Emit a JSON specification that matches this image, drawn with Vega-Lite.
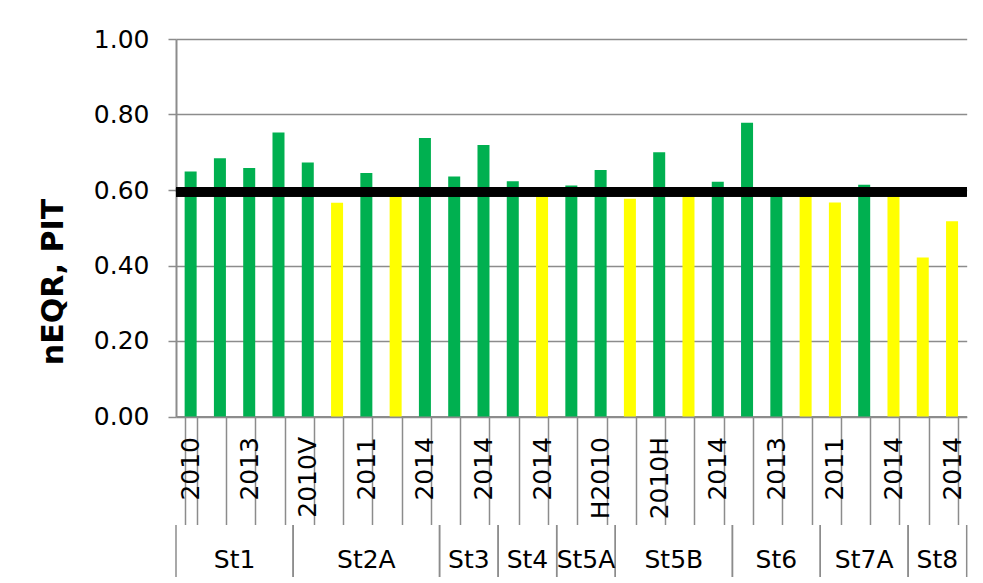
{
  "$schema": "https://vega.github.io/schema/vega-lite/v6.json",
  "padding": {"left": 39, "top": 27, "right": 5, "bottom": 0},
  "background": "white",
  "config": {
    "font": "DejaVu Sans",
    "view": {"stroke": null},
    "axis": {"labelColor": "#000000", "labelFont": "DejaVu Sans", "titleFont": "DejaVu Sans"}
  },
  "bounds": "flush",
  "spacing": 108,
  "vconcat": [
    {
      "width": 790.7,
      "height": 377.5,
      "data": {
        "values": [
          {"station": "St1", "year": "2010", "bar": "St1 2010", "value": 0.649, "status": "good"},
          {"station": "St1", "year": "2011", "bar": "St1 2011", "value": 0.684, "status": "good"},
          {"station": "St1", "year": "2013", "bar": "St1 2013", "value": 0.658, "status": "good"},
          {"station": "St1", "year": "2014", "bar": "St1 2014", "value": 0.752, "status": "good"},
          {"station": "St2A", "year": "2010V", "bar": "St2A 2010V", "value": 0.673, "status": "good"},
          {"station": "St2A", "year": "2010H", "bar": "St2A 2010H", "value": 0.566, "status": "moderate"},
          {"station": "St2A", "year": "2011", "bar": "St2A 2011", "value": 0.645, "status": "good"},
          {"station": "St2A", "year": "2013", "bar": "St2A 2013", "value": 0.595, "status": "moderate"},
          {"station": "St2A", "year": "2014", "bar": "St2A 2014", "value": 0.738, "status": "good"},
          {"station": "St3", "year": "2010", "bar": "St3 2010", "value": 0.636, "status": "good"},
          {"station": "St3", "year": "2014", "bar": "St3 2014", "value": 0.719, "status": "good"},
          {"station": "St4", "year": "2010", "bar": "St4 2010", "value": 0.623, "status": "good"},
          {"station": "St4", "year": "2014", "bar": "St4 2014", "value": 0.595, "status": "moderate"},
          {"station": "St5A", "year": "V2010", "bar": "St5A V2010", "value": 0.612, "status": "good"},
          {"station": "St5A", "year": "H2010", "bar": "St5A H2010", "value": 0.653, "status": "good"},
          {"station": "St5B", "year": "2010V", "bar": "St5B 2010V", "value": 0.577, "status": "moderate"},
          {"station": "St5B", "year": "2010H", "bar": "St5B 2010H", "value": 0.700, "status": "good"},
          {"station": "St5B", "year": "2011", "bar": "St5B 2011", "value": 0.595, "status": "moderate"},
          {"station": "St5B", "year": "2014", "bar": "St5B 2014", "value": 0.622, "status": "good"},
          {"station": "St6", "year": "2010", "bar": "St6 2010", "value": 0.778, "status": "good"},
          {"station": "St6", "year": "2013", "bar": "St6 2013", "value": 0.600, "status": "good"},
          {"station": "St6", "year": "2014", "bar": "St6 2014", "value": 0.595, "status": "moderate"},
          {"station": "St7A", "year": "2011", "bar": "St7A 2011", "value": 0.567, "status": "moderate"},
          {"station": "St7A", "year": "2013", "bar": "St7A 2013", "value": 0.614, "status": "good"},
          {"station": "St7A", "year": "2014", "bar": "St7A 2014", "value": 0.587, "status": "moderate"},
          {"station": "St8", "year": "2010", "bar": "St8 2010", "value": 0.421, "status": "moderate"},
          {"station": "St8", "year": "2014", "bar": "St8 2014", "value": 0.517, "status": "moderate"}
        ]
      },
      "layer": [
        {
          "mark": {"type": "bar"},
          "encoding": {
            "x": {
              "field": "bar",
              "type": "nominal",
              "sort": null,
              "scale": {"paddingInner": 0.59, "paddingOuter": 0.295},
              "axis": {
                "title": null,
                "labelAngle": 270,
                "labelFontSize": 25,
                "labelExpr": "round(datum.index * 26) % 2 == 0 ? split(datum.value, ' ')[1] : ''",
                "tickBand": "extent",
                "tickSize": 108,
                "tickColor": "#8c8c8c",
                "tickWidth": 1.5,
                "domainColor": "#8c8c8c",
                "domainWidth": 2,
                "labelPadding": -88
              }
            },
            "y": {
              "field": "value",
              "type": "quantitative",
              "scale": {"domain": [0, 1], "nice": false},
              "axis": {
                "title": "nEQR, PIT",
                "titleFontSize": 30,
                "titleFontWeight": "bold",
                "titleColor": "#000000",
                "titleX": -113,
                "titleY": 242.5,
                "titleBaseline": "alphabetic",
                "titleAlign": "center",
                "titleAngle": 270,
                "values": [0, 0.2, 0.4, 0.6, 0.8, 1],
                "format": ".2f",
                "labelFontSize": 25,
                "labelPadding": 19,
                "tickSize": 8,
                "tickColor": "#8c8c8c",
                "tickWidth": 1.5,
                "domainColor": "#8c8c8c",
                "domainWidth": 2,
                "grid": true,
                "gridColor": "#8c8c8c",
                "gridWidth": 1.5
              }
            },
            "color": {
              "field": "status",
              "type": "nominal",
              "scale": {"domain": ["good", "moderate"], "range": ["#00B050", "#FFFF00"]},
              "legend": null
            }
          }
        },
        {
          "mark": {"type": "rule", "color": "#000000", "opacity": 0.22, "strokeWidth": 7, "yOffset": 3},
          "encoding": {"y": {"datum": 0.6}}
        },
        {
          "mark": {"type": "rule", "color": "#000000", "strokeWidth": 5},
          "encoding": {"y": {"datum": 0.6}}
        }
      ]
    },
    {
      "width": 790.7,
      "height": 52,
      "data": {
        "values": [
          {"station": "St1", "start": 0, "end": 4},
          {"station": "St2A", "start": 4, "end": 9},
          {"station": "St3", "start": 9, "end": 11},
          {"station": "St4", "start": 11, "end": 13},
          {"station": "St5A", "start": 13, "end": 15},
          {"station": "St5B", "start": 15, "end": 19},
          {"station": "St6", "start": 19, "end": 22},
          {"station": "St7A", "start": 22, "end": 25},
          {"station": "St8", "start": 25, "end": 27}
        ]
      },
      "layer": [
        {
          "mark": {"type": "rule", "color": "#8c8c8c", "strokeWidth": 1.5},
          "encoding": {
            "x": {"field": "start", "type": "quantitative", "scale": {"domain": [0, 27], "nice": false, "zero": false}, "axis": null}
          }
        },
        {
          "mark": {"type": "rule", "color": "#8c8c8c", "strokeWidth": 1.5},
          "encoding": {
            "x": {"field": "end", "type": "quantitative", "axis": null}
          }
        },
        {
          "transform": [{"fold": ["start", "end"], "as": ["edge", "pos"]}],
          "mark": {"type": "text", "fontSize": 25, "dy": 9, "color": "#000000"},
          "encoding": {
            "x": {"aggregate": "mean", "field": "pos", "type": "quantitative", "axis": null},
            "text": {"field": "station", "type": "nominal"}
          }
        }
      ]
    }
  ]
}
